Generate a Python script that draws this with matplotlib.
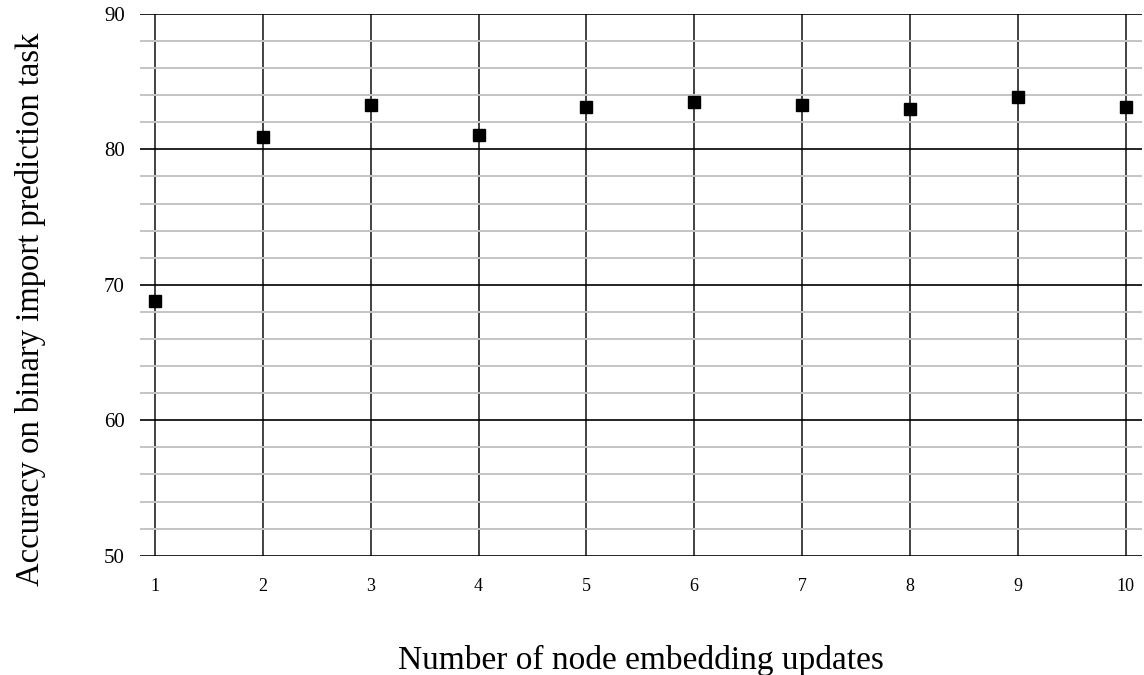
import numpy as np
import matplotlib
matplotlib.use('Agg')
import matplotlib.pyplot as plt
from matplotlib.ticker import MultipleLocator

# data
updates = [1, 2, 3, 4, 5, 6, 7, 8, 9, 10]
accuracy = [68.8, 80.9, 83.3, 81.1, 83.1, 83.5, 83.3, 83.0, 83.9, 83.1]

plt.rcParams['font.family'] = ['Liberation Serif', 'DejaVu Serif']

fig = plt.figure(figsize=(11.44, 6.75), dpi=100)
ax = fig.add_axes([0.1224, 0.1767, 0.8756, 0.8026])

ax.set_xlim(0.86, 10.15)
ax.set_ylim(50, 90)
ax.set_xticks(updates)
ax.yaxis.set_major_locator(MultipleLocator(10))
ax.yaxis.set_minor_locator(MultipleLocator(2))

# gridlines
ax.grid(which='minor', axis='y', color='#c4c4c4', linewidth=1.4)
ax.grid(which='major', axis='y', color='black', linewidth=1.2)
ax.grid(which='major', axis='x', color='#222222', linewidth=1.2)
ax.set_axisbelow(True)

for s in ax.spines.values():
    s.set_visible(False)
ax.tick_params(which='both', length=0)
ax.tick_params(axis='y', labelsize=15, pad=11)
ax.tick_params(axis='x', labelsize=13, pad=16)

ax.plot(updates, accuracy, 's', color='black', markersize=9, zorder=3, clip_on=False)

ax.set_xlabel('Number of node embedding updates', fontsize=24, labelpad=36)
ax.set_ylabel('Accuracy on binary import prediction task', fontsize=23.5)
ax.yaxis.set_label_coords(-0.094, 0.454)

plt.savefig('out.png', dpi=100)
